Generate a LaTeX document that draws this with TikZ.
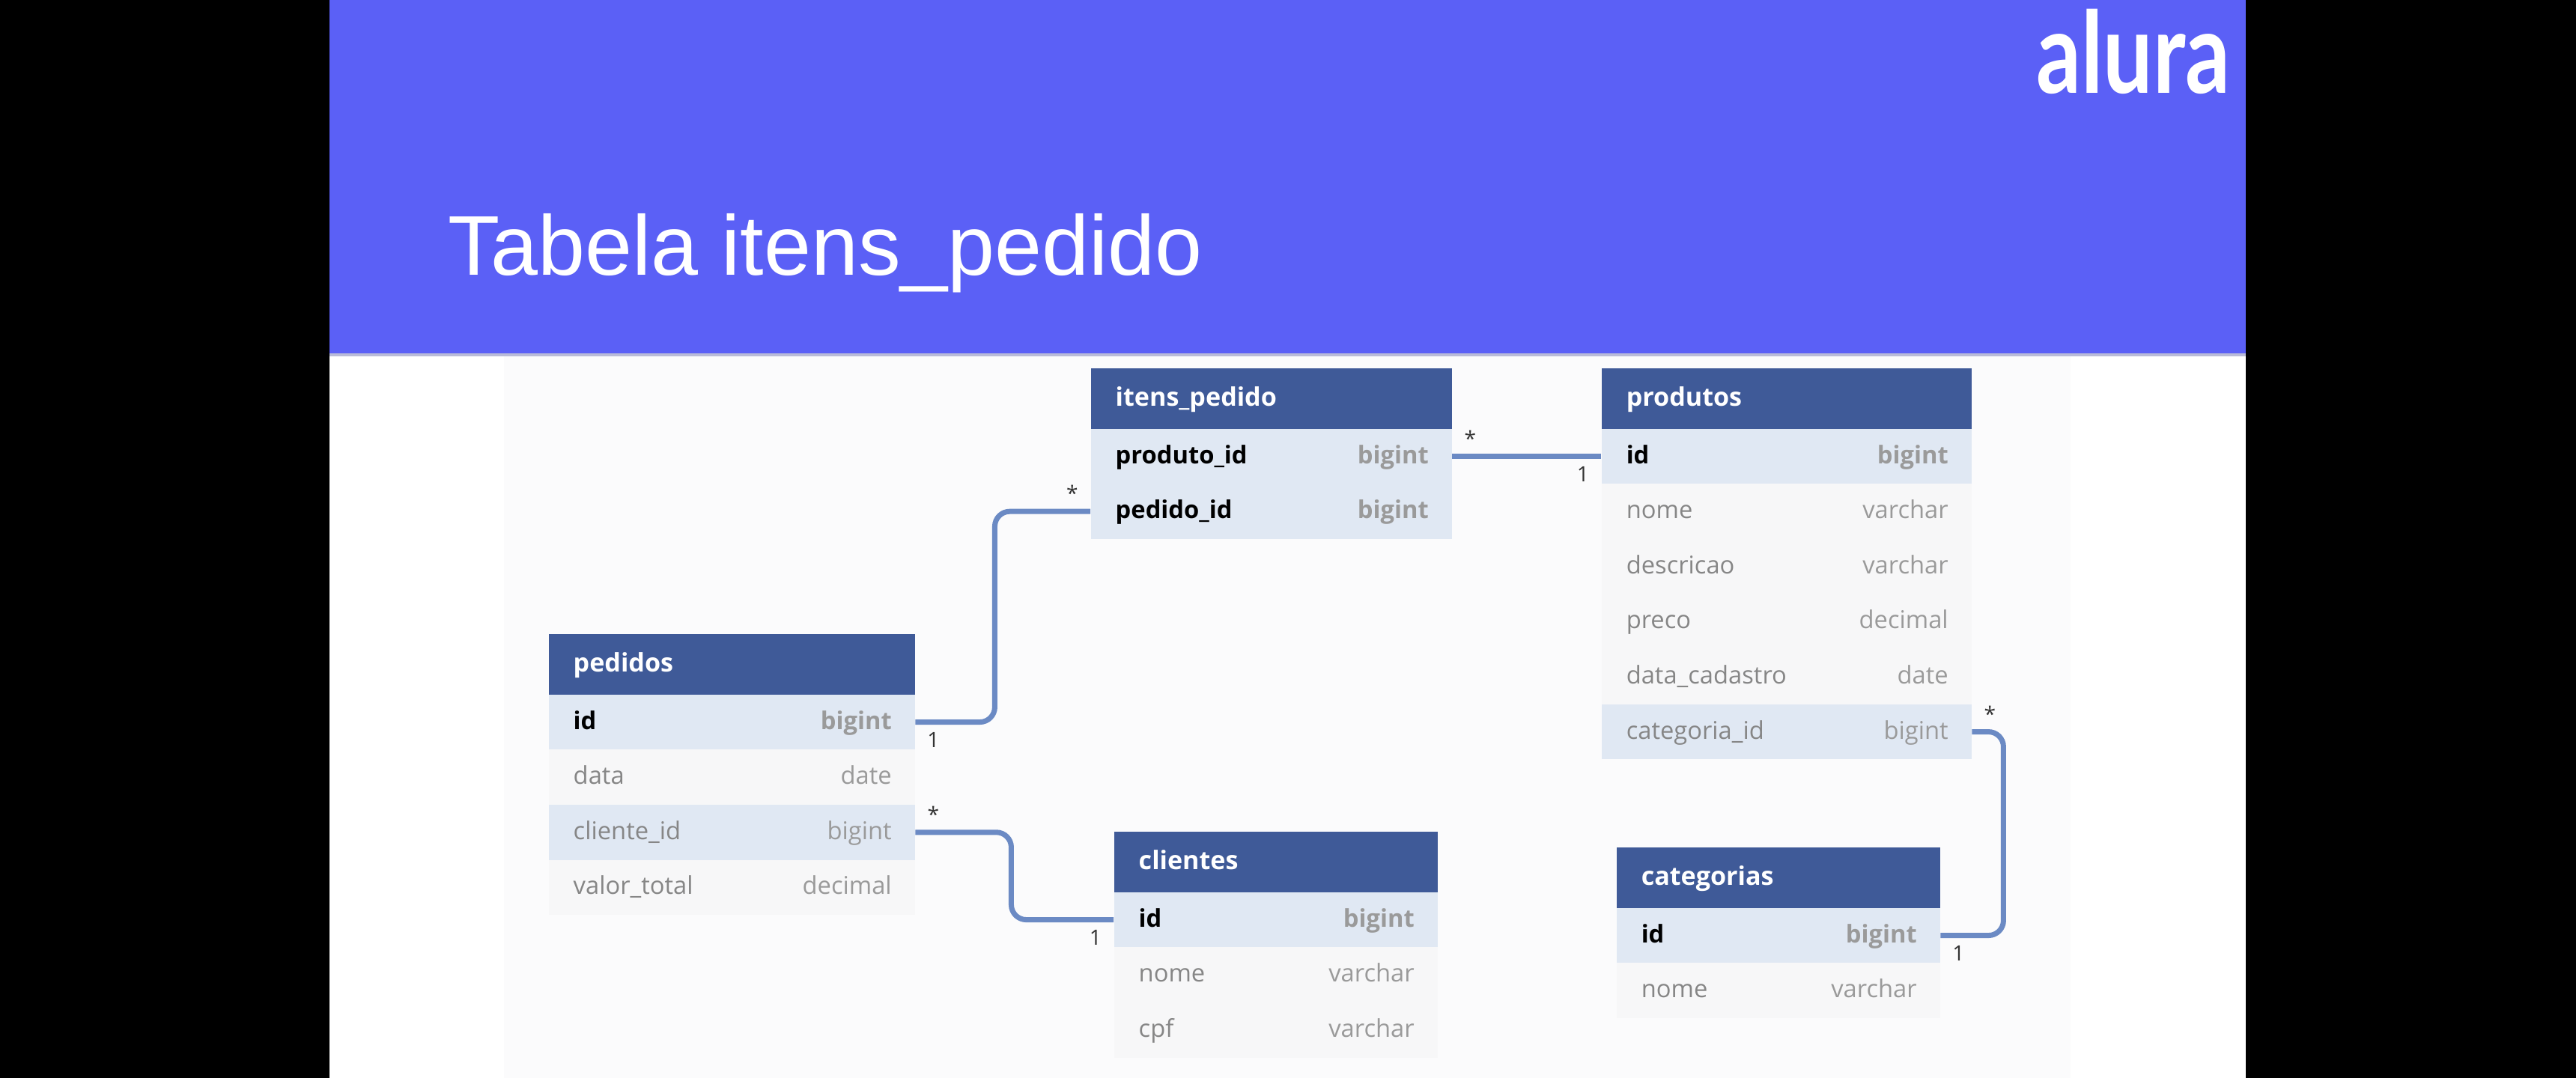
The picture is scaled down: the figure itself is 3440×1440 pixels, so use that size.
\documentclass[tikz,border=0pt]{standalone}
\usepackage{fontspec}
\setmainfont{Open Sans}
\newfontfamily\titlefont{Liberation Sans}
\newfontfamily\logofont{Lato}
\definecolor{slidebar}{HTML}{5B60F6}
\definecolor{panelbg}{HTML}{FBFBFC}
\definecolor{headbg}{HTML}{3F5A98}
\definecolor{rowblue}{HTML}{E0E8F3}
\definecolor{rowgray}{HTML}{F7F7F8}
\definecolor{fieldgray}{HTML}{868686}
\definecolor{typegray}{HTML}{9A9A9A}
\definecolor{relblue}{HTML}{6B8AC4}
\definecolor{barshade}{HTML}{B9BBD8}

\begin{document}
\begin{tikzpicture}[x=0.01cm, y=-0.01cm, line cap=round, line join=round]
\useasboundingbox (0,0) rectangle (3440,1440);

% ---------------- styles ----------------
\tikzset{
  headbox/.style ={anchor=north west, fill=headbg, text=white, font=\fontsize{9.7pt}{11pt}\selectfont\bfseries,
                   minimum height=0.81cm, inner xsep=0.31cm, inner ysep=0pt, text height=7.4pt, text depth=1.8pt},
  rowbox/.style  ={anchor=north west, minimum height=0.737cm, inner xsep=0.31cm, inner ysep=0pt,
                   text height=7.2pt, text depth=1.8pt, font=\fontsize{9.3pt}{11pt}\selectfont},
  pkrow/.style   ={rowbox, fill=rowblue, text=black, font=\fontsize{9.3pt}{11pt}\selectfont\bfseries},
  fkrow/.style   ={rowbox, fill=rowblue, text=fieldgray},
  plainrow/.style={rowbox, fill=rowgray, text=fieldgray},
  rel/.style     ={draw=relblue, line width=0.07cm, line cap=butt, rounded corners=0.2cm},
  card/.style    ={font=\fontsize{8pt}{9pt}\selectfont, text=black!80, inner sep=0pt}
}

% ---------------- parameters ----------------
\def\HeadH{81}    % table header height
\def\RowH{73.6}   % table row height

% helper: one table, #1 name, #2 x, #3 y, #4 width, #5 title, #6 rows
\newcommand{\Tabela}[6]{%
  \pgfmathsetlengthmacro{\RowW}{#4*0.01cm}
  \pgfmathsetlengthmacro{\TextW}{(#4-62)*0.01cm}
  \node[headbox, minimum width=\RowW, text width=\TextW] (#1-0) at (#2,#3) {\hspace*{0.02cm}#5};
  \foreach \field/\kind/\look [count=\i] in {#6} {
    \pgfmathsetmacro{\RowY}{#3+\HeadH+(\i-1)*\RowH}
    \node[\look, minimum width=\RowW, text width=\TextW] (#1-\i) at (#2,\RowY)
      {\hspace*{0.02cm}\field\hfill\textcolor{typegray}{\kind}};
  }
}

% ---------------- slide ----------------
\fill[black] (0,0) rectangle (3440,1440);
\fill[white] (440,0) rectangle (2999,1440);
\fill[panelbg] (673,472) rectangle (2765,1440);
\fill[barshade] (440,472) rectangle (2999,476);
\fill[slidebar] (440,0) rectangle (2999,472);

\node[anchor=base west, text=white, inner sep=0pt, font=\fontsize{32.2pt}{36pt}\selectfont\titlefont] (title) at (598,368)
  {Tabela itens\_pedido};
\node[anchor=base east, text=white, inner sep=0pt, font=\fontsize{43pt}{46pt}\selectfont\logofont\bfseries] (logo) at (2979,125)
  {\scalebox{0.78}[1]{alura}};

% ---------------- tables ----------------
\Tabela{itens}{1456}{491}{482}{itens\_pedido}{produto\_id/bigint/pkrow, pedido\_id/bigint/pkrow}
\Tabela{produtos}{2138}{491}{494}{produtos}{id/bigint/pkrow, nome/varchar/plainrow, descricao/varchar/plainrow,
  preco/decimal/plainrow, data\_cadastro/date/plainrow, categoria\_id/bigint/fkrow}
\Tabela{pedidos}{732}{846}{489}{pedidos}{id/bigint/pkrow, data/date/plainrow, cliente\_id/bigint/fkrow, valor\_total/decimal/plainrow}
\Tabela{clientes}{1487}{1110}{432}{clientes}{id/bigint/pkrow, nome/varchar/plainrow, cpf/varchar/plainrow}
\Tabela{categorias}{2158}{1131}{432}{categorias}{id/bigint/pkrow, nome/varchar/plainrow}

% ---------------- relations ----------------
\draw[rel] (pedidos-1.east) -- ++(106,0) |- (itens-2.west);
\draw[rel] (pedidos-3.east) -- ++(128,0) |- (clientes-1.west);
\draw[rel] (itens-1.east) -- (produtos-1.west);
\draw[rel] (produtos-6.east) -- ++(42,0) |- (categorias-1.east);

% ---------------- cardinality ----------------
\node[card, xshift=-0.24cm, yshift=0.24cm] (c1) at (itens-2.west) {*};
\node[card, xshift=0.24cm, yshift=-0.24cm] (c2) at (pedidos-1.east) {1};
\node[card, xshift=0.24cm, yshift=0.24cm] (c3) at (pedidos-3.east) {*};
\node[card, xshift=-0.24cm, yshift=-0.24cm] (c4) at (clientes-1.west) {1};
\node[card, xshift=0.24cm, yshift=0.24cm] (c5) at (itens-1.east) {*};
\node[card, xshift=-0.24cm, yshift=-0.24cm] (c6) at (produtos-1.west) {1};
\node[card, xshift=0.24cm, yshift=0.24cm] (c7) at (produtos-6.east) {*};
\node[card, xshift=0.24cm, yshift=-0.24cm] (c8) at (categorias-1.east) {1};

\end{tikzpicture}
\end{document}
